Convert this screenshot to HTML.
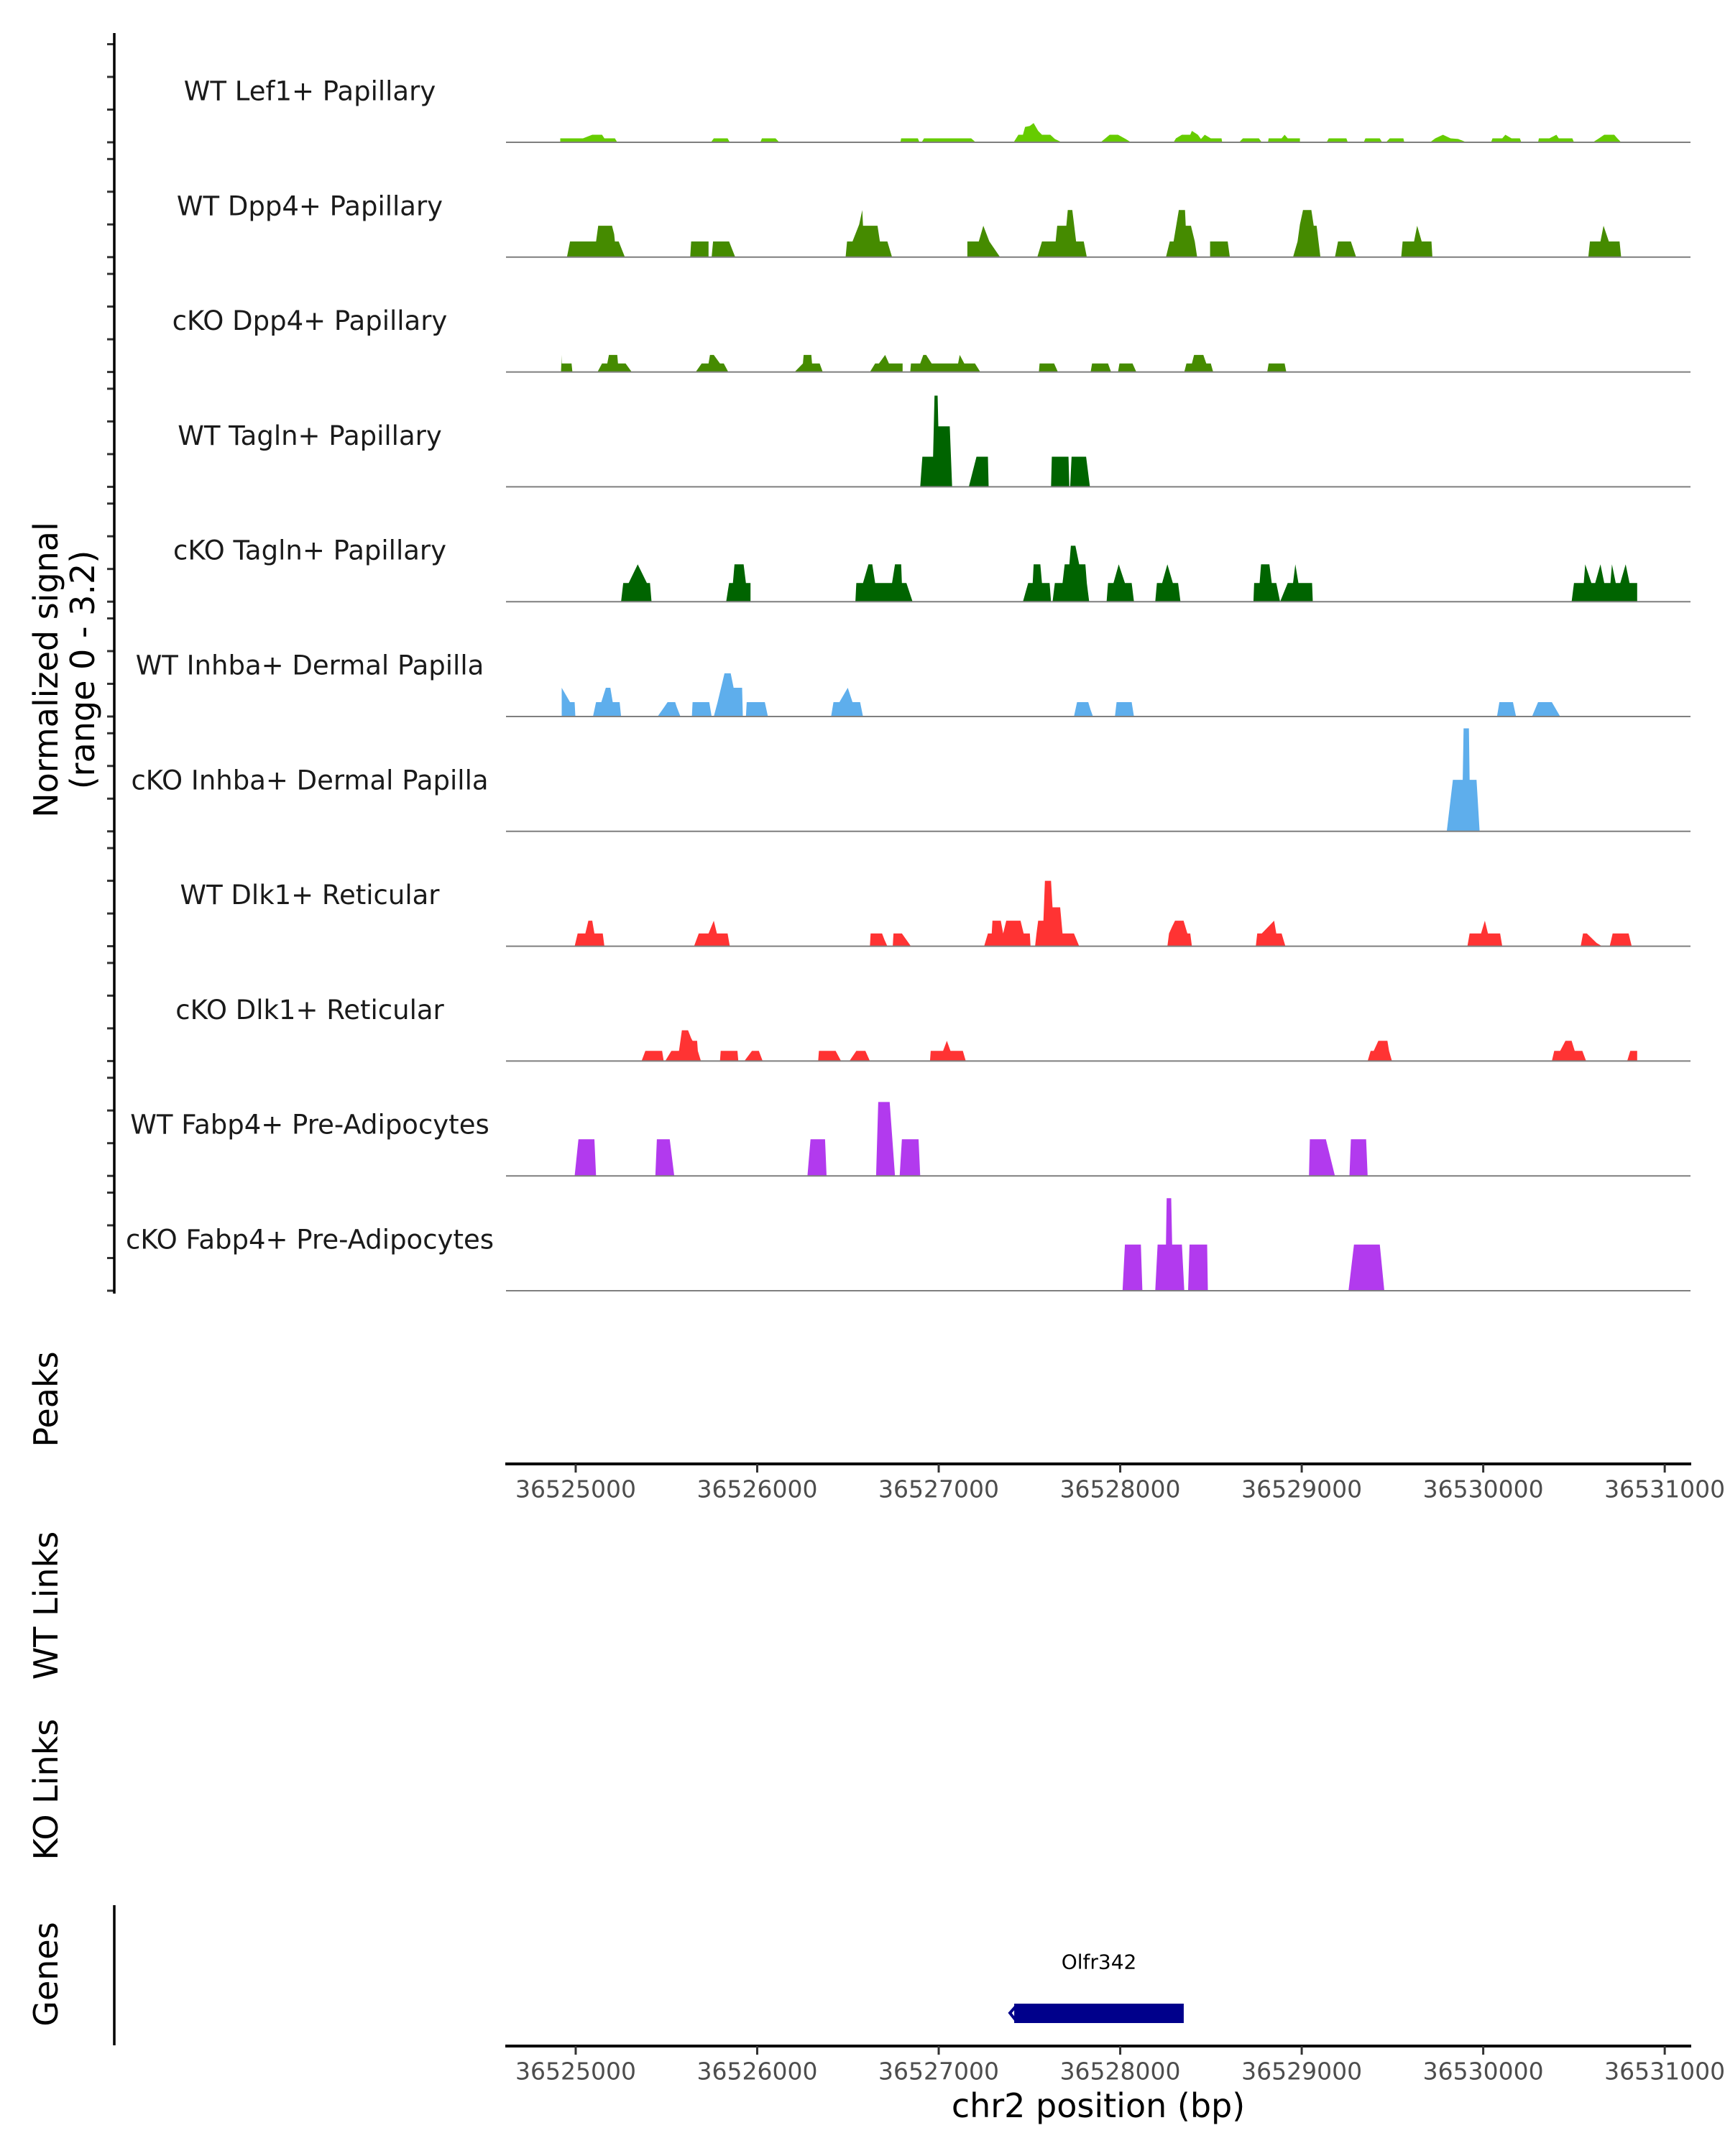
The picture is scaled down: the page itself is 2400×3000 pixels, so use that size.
<!DOCTYPE html>
<html><head><meta charset="utf-8"><style>
html,body{margin:0;padding:0;background:#fff;}
svg{display:block;font-family:"DejaVu Sans","Liberation Sans",sans-serif;}
</style></head><body>
<svg id="chart" width="2400" height="3000" viewBox="0 0 2400 3000" xmlns="http://www.w3.org/2000/svg">
<g id="tracks"></g>
<g id="axes"></g>
</svg>
<script>
const trackNames = ["WT Lef1+ Papillary","WT Dpp4+ Papillary","cKO Dpp4+ Papillary","WT Tagln+ Papillary","cKO Tagln+ Papillary","WT Inhba+ Dermal Papilla","cKO Inhba+ Dermal Papilla","WT Dlk1+ Reticular","cKO Dlk1+ Reticular","WT Fabp4+ Pre-Adipocytes","cKO Fabp4+ Pre-Adipocytes"];
const trackColors = ["#66cc00","#458b00","#458b00","#006400","#006400","#5eaeec","#5eaeec","#ff3333","#ff3333","#b23aee","#b23aee"];
const xTicks = [36525000,36526000,36527000,36528000,36529000,36530000,36531000];
const yTicks = [0,1,2,3];
const geneName = "Olfr342";
const geneStart = 36527416;
const geneEnd = 36528350;

const pos0 = [36524915,36524915,36525040,36525091,36525145,36525158,36525216,36525229,36525745,36525761,36525837,36525849,36526017,36526026,36526101,36526122,36526789,36526793,36526885,36526894,36526906,36526919,36527179,36527204,36527413,36527439,36527464,36527476,36527502,36527523,36527548,36527569,36527615,36527640,36527678,36527892,36527942,36527988,36528030,36528059,36528294,36528307,36528340,36528386,36528395,36528428,36528445,36528466,36528499,36528558,36528562,36528655,36528676,36528764,36528780,36528814,36528818,36528889,36528906,36528923,36528990,36528990,36529137,36529149,36529246,36529254,36529342,36529351,36529430,36529443,36529464,36529485,36529560,36529565,36529707,36529736,36529778,36529820,36529862,36529908,36530043,36530051,36530105,36530122,36530156,36530202,36530210,36530302,36530307,36530365,36530403,36530416,36530491,36530500,36530604,36530638,36530667,36530722,36530739,36530760];
const val0 = [0,.12,.12,.23,.23,.12,.12,0,0,.12,.12,0,0,.12,.12,0,0,.12,.12,0,0,.12,.12,0,0,.23,.23,.47,.5,.59,.35,.23,.23,.1,0,0,.23,.23,.1,0,0,.12,.23,.23,.35,.23,.1,.23,.12,.12,0,0,.12,.12,0,0,.12,.12,.23,.12,.12,0,0,.12,.12,0,0,.12,.12,0,0,.12,.12,0,0,.12,.23,.12,.1,0,0,.12,.12,.23,.12,.12,0,0,.12,.12,.23,.12,.12,0,0,.12,.23,.23,.12,0];

const pos1 = [36524952,36524969,36525112,36525124,36525200,36525212,36525216,36525237,36525271,36525631,36525636,36525732,36525732,36525749,36525757,36525845,36525879,36526487,36526495,36526525,36526562,36526579,36526583,36526663,36526676,36526717,36526743,36527158,36527158,36527221,36527246,36527279,36527338,36527543,36527569,36527644,36527653,36527703,36527711,36527736,36527757,36527799,36527816,36528252,36528273,36528294,36528323,36528357,36528361,36528390,36528411,36528424,36528495,36528495,36528592,36528604,36528952,36528977,36528990,36529007,36529053,36529066,36529082,36529103,36529183,36529200,36529271,36529300,36529548,36529556,36529619,36529636,36529661,36529715,36529720,36530579,36530588,36530646,36530663,36530692,36530751,36530760];
const val1 = [0,.48,.48,.96,.96,.7,.48,.48,0,0,.48,.48,0,0,.48,.48,0,0,.48,.48,1.0,1.44,.96,.96,.48,.48,0,0,.48,.48,.96,.48,0,0,.48,.48,.96,.96,1.44,1.44,.48,.48,0,0,.48,.48,1.44,1.44,.96,.96,.48,0,0,.48,.48,0,0,.48,1.0,1.44,1.44,.96,.96,0,0,.48,.48,0,0,.48,.48,.96,.48,.48,0,0,.48,.48,.96,.48,.48,0];

const pos2 = [36524919,36524923,36524923,36524977,36524982,36525120,36525145,36525174,36525183,36525229,36525233,36525275,36525309,36525661,36525694,36525732,36525740,36525761,36525795,36525816,36525841,36526206,36526252,36526256,36526298,36526302,36526344,36526361,36526621,36526650,36526671,36526705,36526726,36526801,36526801,36526843,36526847,36526898,36526915,36526931,36526961,36527107,36527116,36527141,36527200,36527229,36527552,36527556,36527636,36527657,36527837,36527845,36527933,36527950,36527988,36527996,36528068,36528089,36528353,36528365,36528395,36528407,36528458,36528474,36528499,36528512,36528810,36528818,36528906,36528915];
const val2 = [0,.52,.26,.26,0,0,.26,.26,.52,.52,.26,.26,0,0,.26,.26,.52,.52,.26,.26,0,0,.26,.52,.52,.26,.26,0,0,.26,.26,.52,.26,.26,0,0,.26,.26,.52,.52,.26,.26,.52,.26,.26,0,0,.26,.26,0,0,.26,.26,0,0,.26,.26,0,0,.26,.26,.52,.52,.26,.26,0,0,.26,.26,0];

const pos3 = [36526898,36526910,36526969,36526977,36526994,36526998,36527061,36527074,36527166,36527208,36527271,36527275,36527619,36527623,36527715,36527720,36527724,36527732,36527812,36527833];
const val3 = [0,.92,.92,2.79,2.79,1.85,1.85,0,0,.92,.92,0,0,.92,.92,0,0,.92,.92,0];

const pos4 = [36525250,36525262,36525292,36525342,36525392,36525409,36525418,36525829,36525845,36525866,36525875,36525925,36525938,36525963,36525963,36526541,36526546,36526583,36526613,36526634,36526650,36526743,36526759,36526793,36526797,36526822,36526856,36527464,36527493,36527518,36527523,36527560,36527569,36527611,36527619,36527627,36527640,36527682,36527694,36527720,36527728,36527753,36527774,36527808,36527816,36527829,36527925,36527933,36527963,36527992,36528026,36528063,36528076,36528193,36528202,36528231,36528260,36528290,36528319,36528332,36528734,36528738,36528768,36528776,36528822,36528835,36528860,36528881,36528923,36528952,36528965,36528982,36529057,36529061,36530487,36530500,36530554,36530562,36530596,36530617,36530646,36530667,36530701,36530709,36530730,36530755,36530785,36530806,36530848,36530848];
const val4 = [0,.57,.57,1.14,.57,.57,0,0,.57,.57,1.14,1.14,.57,.57,0,0,.57,.57,1.14,1.14,.57,.57,1.14,1.14,.57,.57,0,0,.57,.57,1.14,1.14,.57,.57,0,0,.57,.57,1.14,1.14,1.71,1.71,1.14,1.14,.57,0,0,.57,.57,1.14,.57,.57,0,0,.57,.57,1.14,.57,.57,0,0,.57,.57,1.14,1.14,.57,.57,0,.57,.57,1.14,.57,.57,0,0,.57,.57,1.14,.57,.57,1.14,.57,.57,1.14,.57,.57,1.14,.57,.57,0];

const pos5 = [36524923,36524923,36524969,36524994,36524998,36525095,36525112,36525141,36525166,36525191,36525204,36525242,36525250,36525451,36525489,36525506,36525548,36525556,36525577,36525640,36525644,36525736,36525749,36525761,36525782,36525820,36525854,36525870,36525917,36525921,36525938,36525942,36526042,36526059,36526407,36526420,36526453,36526499,36526525,36526567,36526583,36527745,36527762,36527824,36527837,36527850,36527971,36527980,36528063,36528076,36530076,36530089,36530164,36530181,36530269,36530302,36530378,36530424];
const val5 = [0,.88,.44,.44,0,0,.44,.44,.88,.88,.44,.44,0,0,.3,.44,.44,.3,0,0,.44,.44,0,0,.44,1.32,1.32,.88,.88,0,0,.44,.44,0,0,.44,.44,.88,.44,.44,0,0,.44,.44,.2,0,0,.44,.44,0,0,.44,.44,0,0,.44,.44,0];

const pos6 = [36529799,36529833,36529887,36529892,36529921,36529925,36529963,36529980];
const val6 = [0,1.575,1.575,3.15,3.15,1.575,1.575,0];

const pos7 = [36524994,36525011,36525053,36525070,36525091,36525103,36525149,36525158,36525652,36525678,36525732,36525761,36525778,36525837,36525849,36526621,36526625,36526688,36526701,36526717,36526747,36526751,36526797,36526847,36527250,36527271,36527292,36527296,36527342,36527355,36527372,36527451,36527468,36527502,36527506,36527531,36527539,36527548,36527577,36527585,36527619,36527627,36527669,36527682,36527745,36527774,36528260,36528269,36528286,36528302,36528349,36528370,36528386,36528395,36528747,36528755,36528780,36528848,36528860,36528889,36528910,36529913,36529925,36529988,36530009,36530026,36530093,36530105,36530537,36530550,36530571,36530625,36530655,36530697,36530713,36530801,36530818];
const val7 = [0,.39,.39,.78,.78,.39,.39,0,0,.39,.39,.78,.39,.39,0,0,.39,.39,.2,0,0,.39,.39,0,0,.39,.39,.78,.78,.39,.78,.78,.39,.39,0,0,.39,.78,.78,2.0,2.0,1.19,1.19,.39,.39,0,0,.39,.6,.78,.78,.39,.39,0,0,.39,.39,.78,.39,.39,0,0,.39,.39,.78,.39,.39,0,0,.39,.39,.1,0,0,.39,.39,0];

const pos8 = [36525363,36525384,36525476,36525485,36525493,36525527,36525569,36525585,36525619,36525636,36525644,36525669,36525673,36525690,36525795,36525799,36525891,36525896,36525929,36525971,36526009,36526030,36526336,36526340,36526432,36526462,36526508,36526546,36526596,36526621,36526952,36526956,36527024,36527045,36527065,36527133,36527149,36529363,36529380,36529397,36529422,36529472,36529481,36529497,36530378,36530391,36530424,36530453,36530487,36530504,36530546,36530567,36530793,36530810,36530848,36530848];
const val8 = [0,.31,.31,0,0,.31,.31,.94,.94,.7,.62,.62,.31,0,0,.31,.31,0,0,.31,.31,0,0,.31,.31,0,0,.31,.31,0,0,.31,.31,.62,.31,.31,0,0,.31,.31,.62,.62,.31,0,0,.31,.31,.62,.62,.31,.31,0,0,.31,.31,0];

const pos9 = [36524994,36525015,36525103,36525112,36525439,36525447,36525518,36525543,36526277,36526294,36526374,36526382,36526655,36526667,36526730,36526759,36526785,36526797,36526889,36526898,36529040,36529045,36529133,36529183,36529263,36529271,36529355,36529363];
const val9 = [0,1.12,1.12,0,0,1.12,1.12,0,0,1.12,1.12,0,0,2.26,2.26,0,0,1.12,1.12,0,0,1.12,1.12,0,0,1.12,1.12,0];

const pos10 = [36528013,36528026,36528114,36528122,36528193,36528206,36528252,36528256,36528281,36528286,36528340,36528353,36528374,36528382,36528479,36528483,36529258,36529288,36529430,36529455];
const val10 = [0,1.41,1.41,0,0,1.41,1.41,2.83,2.83,1.41,1.41,0,0,1.41,1.41,0,0,1.41,1.41,0];

const allPos = [pos0,pos1,pos2,pos3,pos4,pos5,pos6,pos7,pos8,pos9,pos10];
const allVal = [val0,val1,val2,val3,val4,val5,val6,val7,val8,val9,val10];

const NS = "http://www.w3.org/2000/svg";
const X0 = 704, X1 = 2352, BP0 = 36524616, BP1 = 36531142;
function xs(bp){ return X0 + (bp - BP0) / (BP1 - BP0) * (X1 - X0); }
const BASE0 = 198, TRACK_H = 159.8, UNIT = 45.5;
function baseY(i){ return BASE0 + i * TRACK_H; }
function ys(i, v){ return baseY(i) - v * UNIT; }
function mk(tag, attrs, parent){ const e = document.createElementNS(NS, tag); for (const k in attrs) e.setAttribute(k, attrs[k]); parent.appendChild(e); return e; }

const tg = document.getElementById('tracks');
const ag = document.getElementById('axes');

for (let i = 0; i < trackNames.length; i++) {
  const g = mk('g', {}, tg);
  
  
  const lbl = mk('text', {x: 431, y: baseY(i) - 71, 'text-anchor': 'middle', 'dominant-baseline': 'central', 'font-size': 37, fill: '#1a1a1a'}, g);
  lbl.textContent = trackNames[i];
  
  
  const ps = allPos[i], vs = allVal[i];
  let d = 'M' + xs(ps[0]).toFixed(1) + ',' + baseY(i).toFixed(1);
  for (let k = 0; k < ps.length; k++) d += ' L' + xs(ps[k]).toFixed(1) + ',' + ys(i, vs[k]).toFixed(1);
  d += ' L' + xs(ps[ps.length-1]).toFixed(1) + ',' + baseY(i).toFixed(1) + ' Z';
  const area = mk('path', {d: d, fill: trackColors[i], stroke: 'none'}, g);
  
  
  const bl = mk('line', {x1: X0, x2: X1, y1: baseY(i), y2: baseY(i), stroke: '#7f7f7f', 'stroke-width': 2}, g);
  
  
  for (const t of yTicks) {
    const tk = mk('line', {x1: 149, x2: 159, y1: ys(i, t), y2: ys(i, t), stroke: '#333', 'stroke-width': 3}, g);
    
    
  }
}

const la = mk('line', {x1: 159, x2: 159, y1: 46, y2: 1800, stroke: '#000', 'stroke-width': 3.5}, ag);



function yTitle(txt, x, y, name){
  const t = mk('text', {x: x, y: y, 'text-anchor': 'middle', 'dominant-baseline': 'central', 'font-size': 46, fill: '#000', transform: 'rotate(-90 ' + x + ' ' + y + ')'}, ag);
  t.textContent = txt;
  
  
}
yTitle('Normalized signal', 64, 932, 'y-axis-title');
yTitle('(range 0 - 3.2)', 115, 932, 'y-axis-subtitle');
yTitle('Peaks', 64, 1947, 'peaks-title');
yTitle('WT Links', 64, 2234, 'wt-links-title');
yTitle('KO Links', 64, 2490, 'ko-links-title');
yTitle('Genes', 64, 2747, 'genes-title');

function xAxis(y, name){
  const g = mk('g', {}, ag);
  
  
  mk('line', {x1: 703, x2: 2353, y1: y, y2: y, stroke: '#000', 'stroke-width': 4}, g);
  for (const t of xTicks) {
    const tk = mk('line', {x1: xs(t), x2: xs(t), y1: y, y2: y + 12, stroke: '#333', 'stroke-width': 3}, g);
    
    
    const tl = mk('text', {x: xs(t), y: y + 35, 'text-anchor': 'middle', 'dominant-baseline': 'central', 'font-size': 33, fill: '#4d4d4d'}, g);
    tl.textContent = String(t);
    
    
  }
}
xAxis(2037, 'peaks-x-axis');
xAxis(2847, 'genes-x-axis');

const gl = mk('line', {x1: 159, x2: 159, y1: 2651, y2: 2846, stroke: '#000', 'stroke-width': 3.5}, ag);



const xt = mk('text', {x: 1528, y: 2930, 'text-anchor': 'middle', 'dominant-baseline': 'central', 'font-size': 46, fill: '#000'}, ag);
xt.textContent = 'chr2 position (bp)';



const gg = mk('g', {}, ag);


mk('rect', {x: xs(geneStart), y: 2788, width: xs(geneEnd) - xs(geneStart), height: 27, fill: '#00008b'}, gg);
mk('path', {d: 'M' + (xs(geneStart)+2) + ',2792 L' + (xs(geneStart)-6) + ',2801 L' + (xs(geneStart)+2) + ',2811', stroke: '#00008b', 'stroke-width': 4, fill: 'none'}, gg);
const gt = mk('text', {x: (xs(geneStart)+xs(geneEnd))/2, y: 2730, 'text-anchor': 'middle', 'dominant-baseline': 'central', 'font-size': 28, fill: '#000'}, gg);
gt.textContent = geneName;


</script>
</body></html>
